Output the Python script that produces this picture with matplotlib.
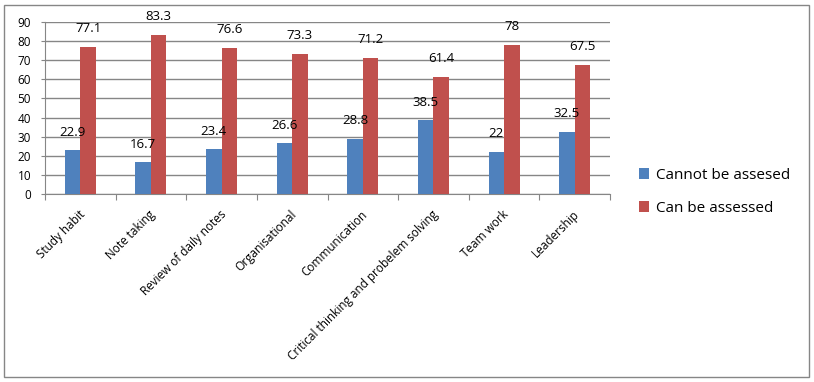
import matplotlib.pyplot as plt
import numpy as np
from matplotlib.patches import Rectangle

plt.rcParams['font.family'] = ['Open Sans', 'DejaVu Sans']

categories = ['Study habit', 'Note taking', 'Review of daily notes', 'Organisational',
              'Communication', 'Critical thinking and probelem solving', 'Team work', 'Leadership']
cannot_assess = [22.9, 16.7, 23.4, 26.6, 28.8, 38.5, 22, 32.5]
can_assess = [77.1, 83.3, 76.6, 73.3, 71.2, 61.4, 78, 67.5]
series_names = ['Cannot be assesed', 'Can be assessed']
colors = ['#4F81BD', '#C0504D']

fig = plt.figure(figsize=(8.14, 3.82), dpi=100)
# outer chart border
fig.patches.append(Rectangle((4 / 814, 5 / 382), 805 / 814, 372 / 382, transform=fig.transFigure,
                             fill=False, edgecolor='#868686', linewidth=1))

ax = fig.add_axes([45 / 814, 1 - 194 / 382, 565 / 814, 172 / 382])

x = np.arange(len(categories))
w = 0.22
b1 = ax.bar(x - w / 2, cannot_assess, w, color=colors[0], label=series_names[0], zorder=3)
b2 = ax.bar(x + w / 2, can_assess, w, color=colors[1], label=series_names[1], zorder=3)

for bars, vals in [(b1, cannot_assess), (b2, can_assess)]:
    for bar, v in zip(bars, vals):
        ax.annotate(f'{v:g}', (bar.get_x() + bar.get_width() / 2, v), xytext=(0, 18),
                    textcoords='offset pixels', ha='center', va='center', fontsize=9.5, zorder=4)

ax.set_xlim(-0.5, len(categories) - 0.5)
ax.set_ylim(0, 90)
ax.set_yticks(range(0, 91, 10))
ax.tick_params(axis='y', labelsize=8.5, length=3, color='#868686', pad=7)
ax.yaxis.grid(True, color='#868686', linewidth=1, zorder=0)

# category ticks at boundaries
ax.set_xticks(np.arange(-0.5, len(categories), 1), minor=False)
ax.set_xticklabels([])
ax.tick_params(axis='x', which='major', length=4, color='#868686', direction='out')
ax.set_xticks(x - 0.03, minor=True)
ax.set_xticklabels(categories, minor=True, rotation=45, ha='right', rotation_mode='anchor', fontsize=8.5)
ax.tick_params(axis='x', which='minor', length=0, pad=10)

for s in ['top', 'right']:
    ax.spines[s].set_visible(False)
for s in ['left', 'bottom']:
    ax.spines[s].set_color('#868686')

fig.legend(handles=[b1, b2], labels=series_names, loc='center left', bbox_to_anchor=(625 / 814, 1 - 192 / 382),
           frameon=False, fontsize=11, handlelength=0.7, handleheight=0.7, handletextpad=0.4, labelspacing=1.2)

fig.savefig('out.png', dpi=100)
